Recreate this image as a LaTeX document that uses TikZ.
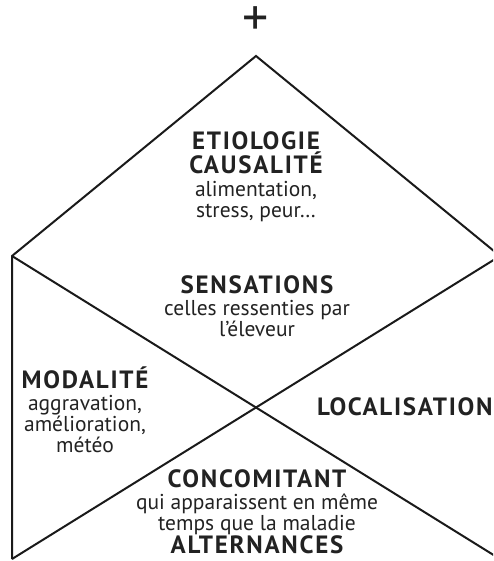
\documentclass[tikz,border=0pt]{standalone}
\usepackage{fontspec}
\setmainfont{PT Sans}
\newfontfamily\capsfont{PT Sans}[LetterSpace=7]
\usepackage{tikz}
\usetikzlibrary{positioning}
\definecolor{ink}{HTML}{222222}
\definecolor{edgeink}{HTML}{1A1A1A}
\tikzset{
  ttl/.style     ={font=\capsfont\bfseries\fontsize{25}{25}\selectfont,text=ink,
                   inner sep=0pt,anchor=base},
  dsc/.style     ={font=\fontsize{21.5}{21}\selectfont,text=ink,align=center,
                   inner sep=0pt,execute at begin node=\strut},
  housel/.style  ={draw=edgeink,line width=2pt,line join=miter},
}

\begin{document}
\begin{tikzpicture}[x=1pt,y=-1pt]

\useasboundingbox (0,0) rectangle (493,561);
\clip (0,0) rectangle (493,561);

\node[font=\fontsize{52}{52}\selectfont,text=ink,inner sep=0pt,
      text height=22pt,text depth=0pt,anchor=base] (plus) at (256,36) {+};

% house outline
\coordinate (apex) at (256,56);
\coordinate (lsh)  at (12,256);
\coordinate (rsh)  at (500,256);
\coordinate (lbot) at (12,559);
\coordinate (rbot) at (500,559);

\draw[housel] (lbot) -- (lsh) -- (apex) -- (rsh);
\draw[housel] (lsh) -- (rbot);
\draw[housel] (lbot) -- (rsh);

% 1. roof
\node[ttl] (etio) at (256,150) {ETIOLOGIE};
\node[ttl] (caus) at (256,174) {CAUSALITÉ};
\node[dsc,below=6.5pt of caus] (caustxt) {alimentation,\\stress, peur…};

% 2. upper wedge
\node[ttl] (sens) at (257,293) {SENSATIONS};
\node[dsc,below=6.5pt of sens] (senstxt) {celles ressenties par\\l’éleveur};

% 3. left wedge
\node[ttl] (moda) at (85,388) {MODALITÉ};
\node[dsc,below=7pt of moda] (modatxt) {aggravation,\\amélioration,\\météo};

% 4. right wedge
\node[ttl,anchor=base west] (loca) at (317,415) {LOCALISATION};

% 5. lower wedge
\node[ttl] (conc) at (257,487) {CONCOMITANT};
\node[dsc,below=6pt of conc] (conctxt) {qui apparaissent en même\\temps que la maladie};
\node[ttl] (alte) at (257,553) {ALTERNANCES};

\end{tikzpicture}
\end{document}
